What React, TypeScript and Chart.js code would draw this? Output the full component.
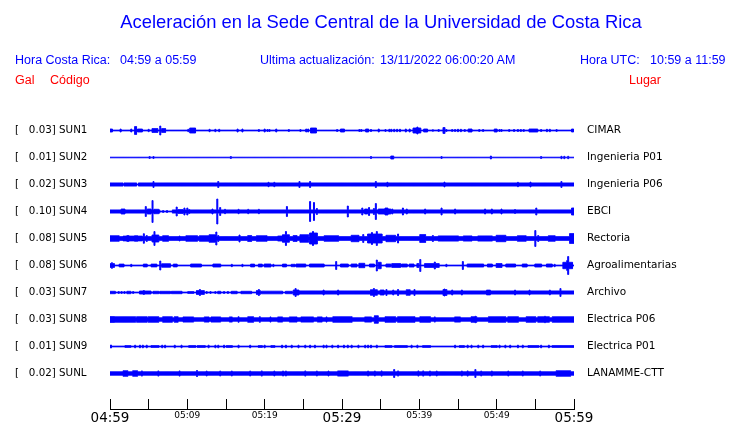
import React, { useEffect, useRef } from 'react';
import { Chart, registerables } from 'chart.js';

Chart.register(...registerables);

// ---------- data ----------
const STATIONS = ['SUN1', 'SUN2', 'SUN3', 'SUN4', 'SUN5', 'SUN6', 'SUN7', 'SUN8', 'SUN9', 'SUNL'];
const PEAK_GAL = ['0.03', '0.01', '0.02', '0.10', '0.08', '0.08', '0.03', '0.03', '0.01', '0.02'];
const PLACES = ['CIMAR', 'Ingenieria P01', 'Ingenieria P06', 'EBCI', 'Rectoria', 'Agroalimentarias', 'Archivo', 'Electrica P06', 'Electrica P01', 'LANAMME-CTT'];
const X_TICK_LABELS = ['04:59', '', '05:09', '', '05:19', '', '05:29', '', '05:39', '', '05:49', '', '05:59'];
const BIG_TICKS = ['04:59', '05:29', '05:59'];

// quiet-level half amplitude of each trace (trace units)
const FLOOR = [0.4, 0.3, 0.4, 0.4, 1.9, 0.4, 0.4, 1.8, 0.4, 1.8];

// bursts: [start minute, end minute, half amplitude] (minutes after 04:59)
const EV_SUN1 = [[0,0.2,1.5],[1.4,1.4,1.5],[2.7,2.7,1.5],[3.3,3.4,4],[3.6,4.1,1.5],[5.0,5.0,1.2],[5.5,6.1,2],[6.5,6.5,4.5],[6.7,7.1,2],[10.1,10.1,1.2],[10.4,11.0,2.5],[12.9,12.9,1.2],[13.6,13.6,1.2],[14.1,14.1,1.2],[16.5,16.5,1.5],[17.1,17.1,1.5],[19.3,19.3,1],[20.0,20.0,1.5],[20.4,20.4,1],[20.6,20.6,1],[21.5,21.5,1.5],[23.1,23.1,1],[24.6,24.6,1],[25.4,25.4,1.5],[25.6,25.6,1.5],[26.0,26.6,2.5],[29.4,29.4,1],[29.9,30.2,1.5],[32.3,32.3,1],[32.5,32.5,1],[33.1,33.4,1.5],[33.7,33.7,1],[34.7,34.7,1.5],[35.6,35.6,1],[36.1,36.1,1.2],[36.4,36.4,1.2],[36.7,36.7,1.2],[37.1,37.1,1.2],[37.5,37.5,1.2],[38.2,38.2,1.5],[38.7,38.7,1.5],[39.3,40.1,2.5],[39.7,39.7,3.5],[40.6,41.0,1.5],[41.8,41.8,0.8],[42.5,42.5,1],[43.1,43.2,3],[43.5,43.5,1],[44.2,44.2,1],[44.6,44.6,1],[45.0,45.0,1.2],[45.4,45.4,1.2],[45.9,45.9,1],[46.4,46.8,1.5],[47.8,47.8,1],[48.2,48.2,1],[49.8,50.0,1.5],[50.4,50.4,1],[50.6,50.6,1],[51.6,51.6,1],[52.3,52.3,1],[52.8,52.8,1],[53.1,53.1,1],[53.5,53.5,1],[54.3,55.2,1.5],[55.8,55.8,1],[56.5,56.5,1.2],[56.9,56.9,1.2],[57.8,57.8,1],[59.7,59.9,1.5]];
const EV_SUN2 = [[5.1,5.1,1],[5.6,5.6,1],[15.6,15.6,1],[33.7,33.7,1],[36.4,36.6,1.5],[42.9,42.9,1],[49.2,49.2,1.5],[55.8,55.8,1],[58.4,58.4,1.2],[58.75,58.75,1.2],[59.3,59.3,1.2]];
const EV_SUN3 = [[0,1.6,1.6],[1.9,3.4,1.6],[3.7,60,1.6],[5.6,5.6,3],[14.0,14.0,3],[20.5,20.5,2.2],[21.25,21.25,2.2],[24.5,24.5,3],[25.9,25.9,3],[34.4,34.4,3],[35.9,35.9,2.2],[43.3,43.3,2.4],[52.7,52.7,2.2],[54.4,54.4,2.4],[58.4,58.4,3]];
const EV_SUN4 = [[0,6.4,1.6],[8.1,60,1.6],[1.5,1.85,2.5],[4.6,4.6,5],[4.9,5.2,2.5],[5.5,5.5,11],[5.8,6.25,2.2],[6.9,6.9,1],[7.4,7.4,1],[8.6,8.6,4.5],[8.9,9.35,2],[9.6,9.6,3.5],[10.0,10.0,3.5],[10.3,10.3,2],[13.2,13.2,2.5],[13.9,13.9,12.5],[14.2,14.2,4],[14.9,14.9,2.2],[16.6,16.6,2.2],[17.9,17.9,2.2],[19.2,19.2,2.2],[22.9,22.9,5],[25.9,25.9,10],[26.4,26.4,9],[26.7,26.7,3],[30.7,30.7,5.5],[32.6,32.6,3.5],[33.0,33.3,2.5],[33.5,33.5,4],[34.1,34.1,3],[34.4,34.4,8],[34.7,36.2,2.5],[35.6,35.9,3.5],[36.5,36.5,2.5],[37.9,37.9,3.5],[38.4,38.4,2.5],[40.7,40.7,2.5],[42.9,42.9,3.5],[44.6,44.6,2.5],[48.5,48.5,2.5],[49.4,49.4,2.5],[50.6,50.6,2.5],[52.4,52.4,2],[55.1,55.1,3.5],[59.8,60,3.5]];
const EV_SUN5 = [[0,1.1,2.8],[1.7,4.1,2.4],[2.2,2.4,3],[3.2,3.5,2.8],[4.4,4.4,4.8],[4.7,4.7,3],[5.5,6.25,3.5],[5.8,5.8,7],[6.9,7.5,2.8],[9.05,9.05,2.5],[9.9,11.2,2.8],[11.6,12.7,2.8],[12.9,13.6,3.8],[13.7,13.7,6.5],[14.0,14.0,3],[16.8,16.8,3.5],[17.9,18.3,3],[19.0,20.3,2.8],[21.8,22.2,2.5],[22.4,23.1,3.8],[22.7,22.7,7],[23.7,24.1,3],[24.6,25.6,3.8],[25.9,26.7,5.5],[26.3,26.3,7],[27.8,29.5,2.8],[31.25,32.1,3.2],[32.8,32.8,4],[33.4,35.1,4.5],[33.9,33.9,6],[34.5,34.5,7],[35.8,36.9,3.2],[37.3,37.3,4.5],[40.1,40.7,4],[41.8,41.8,3],[42.5,45.0,2.6],[45.7,46.8,2.6],[47.6,49.4,2.6],[50.0,51.1,3.2],[52.8,53.7,2.8],[55.0,55.0,8],[55.4,55.4,3],[56.7,57.5,2.8],[59.5,60,5]];
const EV_SUN6 = [[0,0.45,2],[0.2,0.2,2.8],[1.3,1.7,1.4],[2.8,2.8,1.2],[4.4,4.7,1.4],[5.4,6.0,1.4],[6.5,6.5,4.5],[6.8,7.8,1.8],[8.3,8.6,1.4],[10.5,11.8,1.5],[13.4,14.3,1.5],[15.7,15.7,1.2],[17.1,17.1,1.2],[18.3,18.6,1.4],[19.2,19.6,1.4],[20.0,20.7,1.5],[21.1,21.1,1.2],[22.4,22.8,1.4],[23.5,23.9,1.2],[24.1,25.2,1.5],[25.9,27.6,1.5],[29.3,29.3,4],[29.9,30.8,1.5],[31.25,31.9,1.5],[32.3,32.9,2.2],[33.6,34.1,1.5],[34.5,34.5,5.5],[34.7,35.0,3.2],[35.8,36.3,1.5],[36.5,37.5,2],[37.7,38.4,1.5],[38.8,39.2,1.5],[39.7,39.9,2],[40.1,40.1,6],[40.7,42.5,2],[42.0,42.0,3.5],[43.5,43.5,1.2],[45.6,45.6,4],[46.3,48.3,1.5],[48.9,49.4,1.5],[50.0,50.6,2],[51.3,52.4,1.5],[53.4,53.9,1.5],[55.0,55.8,1.5],[56.5,57.1,1.5],[57.5,57.5,1.2],[58.6,59.7,3.2],[59.1,59.1,5],[59.3,59.3,9]];
const EV_SUN7 = [[0,0.65,1.2],[1.1,1.1,1],[1.5,1.5,1],[1.9,1.9,1],[2.3,2.6,1.2],[3.0,3.0,1],[3.9,5.2,1.5],[4.4,4.4,2],[5.6,6.25,1.2],[6.5,7.8,1.2],[8.0,9.3,1.2],[10.1,10.8,1],[11.3,12.1,2],[11.6,11.6,3],[12.5,12.5,1],[13.0,13.0,1],[13.6,13.6,1],[14.0,14.2,1.2],[14.7,14.7,1],[15.2,15.2,1],[15.7,16.4,1.2],[17.0,18.3,1.2],[19.0,19.4,2],[19.2,19.2,3],[19.6,22.2,1.3],[22.8,23.5,1.2],[23.7,24.4,2.5],[24.0,24.0,4],[24.4,60,1.6],[27.6,27.6,2.5],[29.5,29.5,2.5],[33.8,34.5,2.8],[34.1,34.1,4],[35.0,35.4,2.5],[35.8,35.8,3],[36.6,36.6,2.5],[37.3,37.3,3],[38.4,38.8,2.8],[39.4,39.4,3],[43.1,43.5,3],[43.2,43.2,3.5],[44.2,44.2,2.5],[45.5,45.5,2.5],[48.7,49.1,2.4],[52.4,52.4,2.4],[54.3,54.3,2.4],[56.9,56.9,2.4],[58.3,58.3,4]];
const EV_SUN8 = [[0,0.45,3],[0.65,1.7,2.8],[1.9,2.6,2.8],[2.8,3.25,2.8],[3.45,4.1,2.8],[4.3,4.7,2.8],[5.0,6.25,2.8],[6.9,8.0,2.8],[8.4,8.8,2.8],[9.5,10.8,2.6],[12.3,12.7,2.6],[13.1,14.2,2.6],[15.5,15.7,2.6],[16.6,16.6,2.8],[17.9,18.5,2.8],[19.4,19.4,2.8],[20.8,20.8,2.6],[21.8,22.2,2.6],[23.3,24.1,2.6],[24.8,26.3,2.6],[26.9,27.4,2.6],[28.0,28.0,2.6],[28.9,31.25,2.8],[33.0,33.8,2.6],[34.3,34.6,3.8],[35.6,36.9,2.8],[37.3,39.4,2.8],[40.1,41.4,2.8],[42.0,42.0,2.6],[44.6,45.3,2.6],[46.8,47.4,2.8],[47.2,47.2,3.2],[49.0,51.1,2.8],[51.5,52.8,2.8],[53.9,55.0,2.8],[55.4,56.7,2.8],[56.3,56.3,3.2],[57.3,60,2.8]];
const EV_SUN9 = [[0.1,0.1,1.5],[2.0,2.6,1],[3.2,3.2,1.3],[3.9,3.9,1.3],[4.3,4.3,1.3],[4.7,4.7,1.3],[5.4,6.25,1],[6.7,6.7,1.3],[7.1,7.1,1.3],[8.4,8.4,1.3],[9.3,9.3,1.3],[10.3,11.0,1],[11.4,12.3,1],[12.7,12.7,1.3],[13.6,13.6,1.3],[14.0,14.0,1.3],[14.7,14.7,1.3],[15.1,15.7,1],[16.6,16.6,1.3],[18.1,18.1,1.3],[19.2,19.6,1],[20.0,20.0,1.3],[20.9,21.3,1],[22.2,22.2,1.3],[22.8,22.8,1.3],[23.5,23.5,1.3],[24.4,24.4,1.3],[25.2,25.2,1.3],[25.9,25.9,1.3],[26.5,26.5,1.3],[27.6,27.6,1.3],[28.0,28.0,1.3],[28.7,28.7,1.3],[29.5,29.5,1.3],[30.2,30.2,1.3],[30.8,30.8,1.3],[31.25,31.25,1.3],[32.1,32.1,1.3],[33.0,33.0,1.3],[33.4,33.4,1.3],[33.8,33.8,1.3],[34.5,34.5,1.3],[35.6,36.4,1],[36.9,38.4,1],[39.0,39.0,1.3],[39.7,39.7,1.3],[40.5,41.4,1],[44.6,44.6,1.3],[45.3,45.7,1],[46.3,46.3,1.3],[46.8,46.8,1.3],[47.6,47.6,1.3],[48.3,48.3,1.3],[49.4,50.0,1],[50.4,50.4,1.3],[51.1,51.1,1.3],[51.7,51.7,1.3],[52.8,52.8,1.3],[53.4,53.4,1.3],[54.1,55.4,1],[55.8,55.8,1.3],[56.7,56.7,1.3],[57.3,60,1]];
const EV_SUNL = [[1.7,2.2,2.8],[3.0,3.45,2.8],[4.1,4.1,2.6],[6.25,6.25,2.6],[9.05,9.05,2.6],[11.2,11.2,3],[12.5,12.5,2.5],[14.2,14.2,2.5],[15.7,15.7,2.5],[18.1,18.1,2.5],[19.6,19.6,2.6],[21.3,21.3,2.5],[22.4,22.4,2.5],[22.8,22.8,2.5],[25.2,25.2,2.6],[26.7,26.7,2.5],[28.2,28.2,2.5],[29.5,30.8,2.6],[33.4,33.4,2.5],[34.3,34.3,2.5],[35.1,35.1,2.6],[36.8,36.8,4],[37.3,37.3,2.6],[39.9,39.9,2.6],[40.5,40.5,2.6],[41.4,41.4,2.5],[42.2,42.2,2.5],[45.5,45.5,2.5],[46.3,46.3,2.6],[47.2,47.2,4],[48.0,48.0,2.5],[49.4,49.4,2.5],[51.5,51.5,2.5],[53.4,53.4,2.5],[55.6,55.6,2.5],[57.8,59.5,2.8]];

const EVENTS = [EV_SUN1, EV_SUN2, EV_SUN3, EV_SUN4, EV_SUN5, EV_SUN6, EV_SUN7, EV_SUN8, EV_SUN9, EV_SUNL];

// ---------- helpers ----------
const SPAN_MIN = 60;
const STEP = 0.125;         // sampling of the envelope, minutes
const TRACE_UNITS_PER_ROW = 27;
const BLUE = '#0000ff';
const Y_MIN = -1 - 1 / 54;
const Y_MAX = 10 + 1 / 3 - 1 / 54;

function envelope(floor: number, events: number[][]) {
  const pts: { t: number; a: number }[] = [];
  const n = Math.round(SPAN_MIN / STEP);
  for (let i = 0; i <= n; i++) {
    const t = i * STEP;
    let a = floor;
    for (const [s, e, amp] of events) {
      if (t >= s - STEP / 2 && t <= e + STEP / 2 && amp > a) a = amp;
    }
    pts.push({ t, a });
  }
  return pts;
}

function buildDatasets() {
  const ds: any[] = [];
  STATIONS.forEach((_, k) => {
    const env = envelope(FLOOR[k], EVENTS[k]);
    const common = {
      type: 'line',
      yAxisID: 'y',
      borderColor: BLUE,
      backgroundColor: BLUE,
      borderWidth: 1,
      pointRadius: 0,
      stepped: 'middle',
      tension: 0,
    };
    ds.push({ ...common, label: STATIONS[k] + '+', data: env.map(p => ({ x: p.t, y: k - p.a / TRACE_UNITS_PER_ROW })), fill: false });
    ds.push({ ...common, label: STATIONS[k] + '-', data: env.map(p => ({ x: p.t, y: k + p.a / TRACE_UNITS_PER_ROW })), fill: '-1' });
  });
  return ds;
}

const TICK_FONT = 'DejaVu Sans';
const rowTicks = (scale: any) => { scale.ticks = STATIONS.map((_, i) => ({ value: i })); };
const noPad = (w: number) => (s: any) => { s.width = w; s.paddingTop = 0; s.paddingBottom = 0; };

export default function App() {
  const ref = useRef<HTMLCanvasElement | null>(null);

  useEffect(() => {
    if (!ref.current) return;
    const chart = new Chart(ref.current, {
      type: 'line',
      data: { datasets: buildDatasets() },
      options: {
        responsive: false,
        animation: false,
        events: [],
        layout: { padding: { top: 103, left: 15, right: 0, bottom: 0 } },
        plugins: { legend: { display: false }, tooltip: { enabled: false }, title: { display: false } },
        scales: {
          x: {
            type: 'linear',
            min: 0,
            max: SPAN_MIN,
            offset: false,
            afterFit: (s: any) => { s.height = 14; s.paddingLeft = 0; s.paddingRight = 0; },
            border: { display: true, color: '#000', width: 1 },
            grid: { display: true, drawOnChartArea: false, drawTicks: true, tickLength: -10, color: '#000', lineWidth: 1 },
            ticks: {
              stepSize: 5,
              autoSkip: false,
              maxRotation: 0,
              padding: 11,
              color: '#000',
              font: (ctx: any) => {
                const lbl = X_TICK_LABELS[ctx.index] || '';
                return BIG_TICKS.includes(lbl) ? { family: TICK_FONT, size: 13.5 } : { family: TICK_FONT, size: 9 };
              },
              callback: (_v: any, i: number) => X_TICK_LABELS[i] ?? '',
            },
          },
          y: {
            type: 'linear',
            position: 'left',
            reverse: true,
            min: Y_MIN,
            max: Y_MAX,
            afterFit: noPad(95),
            afterBuildTicks: rowTicks,
            border: { display: false },
            grid: { display: false, drawTicks: false },
            ticks: {
              crossAlign: 'far',
              padding: 0,
              color: '#000',
              font: { family: TICK_FONT, size: 10.3 },
              callback: (_v: any, i: number) => `[   ${PEAK_GAL[i]}] ${STATIONS[i]}`,
            },
          },
          y2: {
            type: 'linear',
            position: 'right',
            reverse: true,
            min: Y_MIN,
            max: Y_MAX,
            afterFit: noPad(166),
            afterBuildTicks: rowTicks,
            border: { display: false },
            grid: { display: false, drawTicks: false },
            ticks: {
              crossAlign: 'near',
              padding: 13,
              color: '#000',
              font: { family: TICK_FONT, size: 10.5 },
              callback: (_v: any, i: number) => PLACES[i],
            },
          },
        },
      } as any,
    });
    return () => chart.destroy();
  }, []);

  const head: React.CSSProperties = {
    position: 'absolute',
    fontFamily: '"Liberation Sans", Arial, sans-serif',
    fontSize: '12.5px',
    lineHeight: '14px',
    color: BLUE,
    whiteSpace: 'pre',
  };
  const red: React.CSSProperties = { ...head, color: '#ff0000' };

  return (
    <div style={{ position: 'absolute', left: 0, top: 0, width: 740, height: 423, background: '#fff', overflow: 'hidden' }}>
      <canvas ref={ref} width={740} height={423} style={{ position: 'absolute', left: 0, top: 0, display: 'block' }} />
      <div style={{ ...head, left: 0, width: 762, top: 11, fontSize: '18.4px', lineHeight: '22px', textAlign: 'center' }}>
        Aceleración en la Sede Central de la Universidad de Costa Rica
      </div>
      <div style={{ ...head, left: 15, top: 53 }}>Hora Costa Rica:</div>
      <div style={{ ...head, left: 120, top: 53 }}>04:59 a 05:59</div>
      <div style={{ ...head, left: 260, top: 53 }}>Ultima actualización:</div>
      <div style={{ ...head, left: 380, top: 53 }}>13/11/2022 06:00:20 AM</div>
      <div style={{ ...head, left: 580, top: 53 }}>Hora UTC:</div>
      <div style={{ ...head, left: 650, top: 53 }}>10:59 a 11:59</div>
      <div style={{ ...red, left: 15, top: 73 }}>Gal</div>
      <div style={{ ...red, left: 50, top: 73 }}>Código</div>
      <div style={{ ...red, left: 629, top: 73 }}>Lugar</div>
    </div>
  );
}
